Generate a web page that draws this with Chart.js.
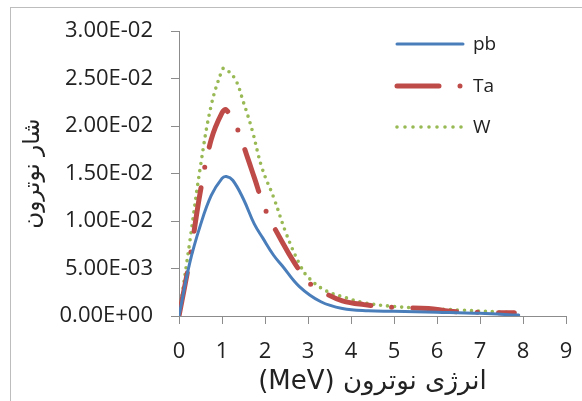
<!DOCTYPE html>
<html>
<head>
<meta charset="utf-8">
<script src="https://cdn.jsdelivr.net/npm/chart.js@4.4.1/dist/chart.umd.min.js"></script>
<style>
  body { margin: 0; background: #fff; }
  #wrap { position: relative; width: 582px; height: 401px; }
  #frame { position: absolute; left: 10px; top: 7px; right: -2px; bottom: -2px; border: 1px solid #bdbdbd; }
  canvas { position: absolute; left: 0; top: 0; }
</style>
</head>
<body>
<div id="wrap">
  <canvas id="grafica" width="582" height="401"></canvas>
  <div id="frame"></div>
</div>
<script>
// energia (MeV) y flujo de cada blanco
const pbX = [0, 0.25, 0.5, 0.75, 1.0, 1.1, 1.25, 1.5, 1.75, 1.95, 2.2, 2.4, 2.8, 3.3, 3.8, 4.4, 5, 6, 7, 7.9];
const pbY = [0, 0.0056, 0.0096, 0.0127, 0.0145, 0.0147, 0.0143, 0.0123, 0.0097, 0.0082, 0.0064, 0.0053, 0.0031, 0.0015, 0.0008, 0.00055, 0.0005, 0.0004, 0.00028, 0.0001];

const taX = [0, 0.25, 0.5, 0.75, 1.0, 1.1, 1.35, 1.6, 1.75, 2.0, 2.4, 2.7, 3.0, 3.4, 3.8, 4.3, 5, 5.8, 6.3, 7, 7.8];
const taY = [0, 0.0060, 0.0132, 0.0186, 0.0214, 0.0217, 0.0198, 0.0166, 0.0146, 0.0113, 0.0078, 0.0055, 0.0036, 0.0024, 0.0016, 0.0012, 0.0009, 0.0008, 0.0005, 0.00038, 0.00033];

const wX = [0, 0.25, 0.5, 0.75, 1.0, 1.05, 1.3, 1.5, 1.7, 1.93, 2.2, 2.5, 2.8, 3.0, 3.4, 3.9, 4.3, 5, 5.8, 6.5, 7.8];
const wY = [0, 0.0078, 0.0158, 0.0222, 0.0259, 0.0261, 0.0250, 0.0225, 0.0196, 0.0156, 0.0125, 0.0086, 0.0055, 0.0041, 0.0027, 0.0019, 0.0014, 0.0010, 0.0008, 0.00063, 0.00035];

const seriesNames = ["pb", "Ta", "W"];
const xTicks = [0, 1, 2, 3, 4, 5, 6, 7, 8, 9];
const yTicks = [0, 0.005, 0.01, 0.015, 0.02, 0.025, 0.03];

const colores = ["#4A7EBB", "#BE4B48", "#98B954"];
const estilos = [
  { width: 3, dash: [] },
  { width: 5, dash: [44, 21, 0, 21] },
  { width: 3.6, dash: [0, 7] }
];

function puntos(xs, ys) {
  return xs.map((x, i) => ({ x: x, y: ys[i] }));
}

function formatoE(v) {
  if (v === 0) return "0.00E+00";
  const exp = Math.floor(Math.log10(Math.abs(v)) + 1e-9);
  const man = v / Math.pow(10, exp);
  const sign = exp < 0 ? "-" : "+";
  const e = Math.abs(exp);
  return man.toFixed(2) + "E" + sign + (e < 10 ? "0" + e : e);
}

const leyenda = {
  id: 'leyenda',
  afterDraw(chart) {
    const ctx = chart.ctx;
    const filas = [44, 86, 127];
    const trazos = [[], [42, 21, 0, 21], [0, 8]];
    ctx.save();
    seriesNames.forEach((nombre, i) => {
      ctx.beginPath();
      ctx.strokeStyle = colores[i];
      ctx.lineWidth = estilos[i].width;
      ctx.lineCap = 'round';
      ctx.setLineDash(trazos[i]);
      ctx.moveTo(397, filas[i]);
      ctx.lineTo(463, filas[i]);
      ctx.stroke();
      ctx.setLineDash([]);
      ctx.fillStyle = '#222';
      ctx.font = '19px "Open Sans", sans-serif';
      ctx.textBaseline = 'middle';
      ctx.textAlign = 'left';
      ctx.fillText(nombre, 473, filas[i] + 1);
    });
    ctx.restore();
  }
};

const datos = [puntos(pbX, pbY), puntos(taX, taY), puntos(wX, wY)];

new Chart(document.getElementById("grafica").getContext("2d"), {
  type: 'scatter',
  data: {
    datasets: seriesNames.map((nombre, i) => ({
      label: nombre,
      data: datos[i],
      showLine: true,
      borderColor: colores[i],
      borderWidth: estilos[i].width,
      borderDash: estilos[i].dash,
      borderCapStyle: 'round',
      tension: 0.4,
      pointRadius: 0,
      pointHoverRadius: 0,
      fill: false
    }))
  },
  options: {
    responsive: false,
    animation: false,
    devicePixelRatio: 1,
    layout: { padding: { top: 29, right: 16, left: 0, bottom: 0 } },
    plugins: {
      legend: { display: false },
      tooltip: { enabled: false }
    },
    scales: {
      x: {
        type: 'linear',
        min: 0,
        max: 9,
        afterBuildTicks: (s) => { s.ticks = xTicks.map(v => ({ value: v })); },
        afterFit: (s) => { s.height = 85; s.paddingRight = 0; s.paddingLeft = 0; },
        grid: { drawOnChartArea: false, drawTicks: true, tickLength: 8, color: '#8c8c8c' },
        border: { display: true, color: '#8c8c8c', width: 1 },
        ticks: { color: '#222', padding: 15, font: { family: '"Open Sans", sans-serif', size: 22 } },
        title: {
          display: true,
          text: "(MeV) انرژی نوترون",
          color: '#222',
          padding: { top: 0, bottom: 3 },
          font: { family: '"DejaVu Sans", sans-serif', size: 26 }
        }
      },
      y: {
        type: 'linear',
        min: 0,
        max: 0.03,
        afterBuildTicks: (s) => { s.ticks = yTicks.map(v => ({ value: v })); },
        afterFit: (s) => { s.width = 179; },
        grid: { drawOnChartArea: false, drawTicks: true, tickLength: 8, color: '#8c8c8c' },
        border: { display: true, color: '#8c8c8c', width: 1 },
        ticks: {
          color: '#222',
          padding: 18,
          font: { family: '"Open Sans", sans-serif', size: 22 },
          callback: (v) => formatoE(v)
        },
        title: {
          display: true,
          text: "شار نوترون",
          color: '#222',
          padding: { top: 19, bottom: 0 },
          font: { family: '"DejaVu Sans", sans-serif', size: 23 }
        }
      }
    }
  },
  plugins: [leyenda]
});
</script>
</body>
</html>
